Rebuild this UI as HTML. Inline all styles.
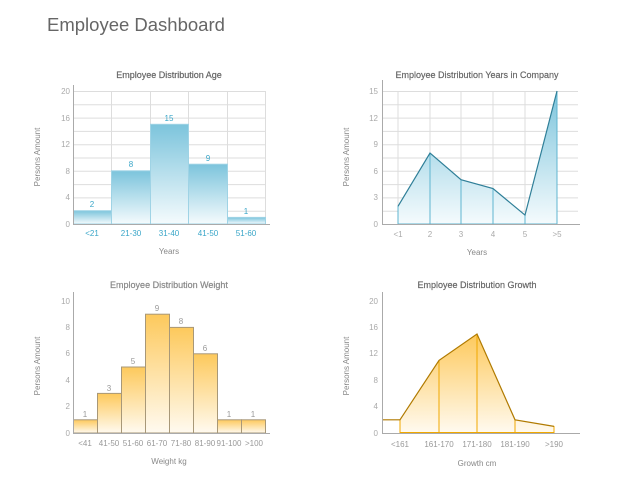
<!DOCTYPE html><html><head><meta charset="utf-8"><style>body{margin:0;background:#fff}svg{display:block}text{font-family:"Liberation Sans",sans-serif}</style></head><body>
<svg width="640" height="481" viewBox="0 0 640 481">
<defs>
<linearGradient id="b" x1="0" y1="0" x2="0" y2="1"><stop offset="0" stop-color="#7cc4dc"/><stop offset="1" stop-color="#f5fbfd"/></linearGradient>
<linearGradient id="o" x1="0" y1="0" x2="0" y2="1"><stop offset="0" stop-color="#fdc95c"/><stop offset="1" stop-color="#fffaf0"/></linearGradient>
</defs>
<text x="47" y="31" font-size="18.5" fill="#666">Employee Dashboard</text>

<!-- Chart 1 -->
<g stroke="#ddd" stroke-width="1">
<line x1="73" y1="91.5" x2="266" y2="91.5"/><line x1="73" y1="104.8" x2="266" y2="104.8"/><line x1="73" y1="118.1" x2="266" y2="118.1"/><line x1="73" y1="131.4" x2="266" y2="131.4"/><line x1="73" y1="144.7" x2="266" y2="144.7"/><line x1="73" y1="158" x2="266" y2="158"/><line x1="73" y1="171.3" x2="266" y2="171.3"/><line x1="73" y1="184.6" x2="266" y2="184.6"/><line x1="73" y1="197.9" x2="266" y2="197.9"/><line x1="73" y1="211.2" x2="266" y2="211.2"/>
<line x1="111.5" y1="91" x2="111.5" y2="224"/><line x1="150.5" y1="91" x2="150.5" y2="224"/><line x1="188.5" y1="91" x2="188.5" y2="224"/><line x1="227.5" y1="91" x2="227.5" y2="224"/><line x1="265.5" y1="91" x2="265.5" y2="224"/>
</g>
<g fill="url(#b)" stroke="#9fd3e5">
<rect x="73.5" y="210.7" width="38" height="13.3"/><rect x="111.5" y="170.8" width="39" height="53.2"/><rect x="150.5" y="124.3" width="38" height="99.7"/><rect x="188.5" y="164.2" width="39" height="59.8"/><rect x="227.5" y="217.4" width="38" height="6.6"/>
</g>
<g stroke="#aaa"><line x1="73.5" y1="85" x2="73.5" y2="225"/><line x1="73" y1="224.5" x2="270" y2="224.5"/></g>
<g font-size="8" fill="#aaa" text-anchor="end"><text x="70" y="94">20</text><text x="70" y="121">16</text><text x="70" y="147">12</text><text x="70" y="174">8</text><text x="70" y="200">4</text><text x="70" y="227">0</text></g>
<g font-size="8" fill="#3aa6c8" text-anchor="middle"><text x="92" y="207">2</text><text x="131" y="167">8</text><text x="169" y="121">15</text><text x="208" y="161">9</text><text x="246" y="214">1</text>
<text x="92" y="236">&lt;21</text><text x="131" y="236">21-30</text><text x="169" y="236">31-40</text><text x="208" y="236">41-50</text><text x="246" y="236">51-60</text></g>
<text x="169" y="78" font-size="9" fill="#666" stroke="#666" stroke-width="0.2" text-anchor="middle">Employee Distribution Age</text>
<text x="169" y="254" font-size="8" fill="#888" text-anchor="middle">Years</text>
<text transform="translate(40,157) rotate(-90)" font-size="8" fill="#888" text-anchor="middle">Persons Amount</text>

<!-- Chart 2 -->
<g stroke="#ddd"><line x1="382" y1="91.5" x2="578" y2="91.5"/><line x1="382" y1="104.8" x2="578" y2="104.8"/><line x1="382" y1="118.1" x2="578" y2="118.1"/><line x1="382" y1="131.4" x2="578" y2="131.4"/><line x1="382" y1="144.7" x2="578" y2="144.7"/><line x1="382" y1="158" x2="578" y2="158"/><line x1="382" y1="171.3" x2="578" y2="171.3"/><line x1="382" y1="184.6" x2="578" y2="184.6"/><line x1="382" y1="197.9" x2="578" y2="197.9"/><line x1="382" y1="211.2" x2="578" y2="211.2"/>
<line x1="398" y1="91" x2="398" y2="224"/><line x1="430" y1="91" x2="430" y2="224"/><line x1="461" y1="91" x2="461" y2="224"/><line x1="493" y1="91" x2="493" y2="224"/><line x1="525" y1="91" x2="525" y2="224"/><line x1="557" y1="91" x2="557" y2="224"/></g>
<polygon points="398,206.3 430,153.1 461,179.7 493,188.5 525,215.1 557,91 557,224 398,224" fill="url(#b)"/>
<g stroke="#5fb5d0"><line x1="398" y1="206" x2="398" y2="224"/><line x1="430" y1="153" x2="430" y2="224"/><line x1="461" y1="180" x2="461" y2="224"/><line x1="493" y1="188" x2="493" y2="224"/><line x1="525" y1="215" x2="525" y2="224"/><line x1="557" y1="91" x2="557" y2="224"/><line x1="398" y1="224" x2="557" y2="224"/></g>
<polyline points="398,206.3 430,153.1 461,179.7 493,188.5 525,215.1 557,91" fill="none" stroke="#2f7f98" stroke-width="1.2"/>
<g stroke="#aaa"><line x1="382.5" y1="80" x2="382.5" y2="225"/><line x1="382" y1="224.5" x2="580" y2="224.5"/></g>
<g font-size="8" fill="#aaa" text-anchor="end"><text x="378" y="94">15</text><text x="378" y="121">12</text><text x="378" y="147">9</text><text x="378" y="174">6</text><text x="378" y="200">3</text><text x="378" y="227">0</text></g>
<g font-size="8" fill="#aaa" text-anchor="middle"><text x="398" y="237">&lt;1</text><text x="430" y="237">2</text><text x="461" y="237">3</text><text x="493" y="237">4</text><text x="525" y="237">5</text><text x="557" y="237">&gt;5</text></g>
<text x="477" y="78" font-size="9" fill="#666" stroke="#666" stroke-width="0.2" text-anchor="middle">Employee Distribution Years in Company</text>
<text x="477" y="255" font-size="8" fill="#888" text-anchor="middle">Years</text>
<text transform="translate(349,157) rotate(-90)" font-size="8" fill="#888" text-anchor="middle">Persons Amount</text>

<!-- Chart 3 -->
<g fill="url(#o)" stroke="#a89878">
<rect x="73.5" y="419.8" width="24" height="13.2"/><rect x="97.5" y="393.4" width="24" height="39.6"/><rect x="121.5" y="367" width="24" height="66"/><rect x="145.5" y="314.2" width="24" height="118.8"/><rect x="169.5" y="327.4" width="24" height="105.6"/><rect x="193.5" y="353.8" width="24" height="79.2"/><rect x="217.5" y="419.8" width="24" height="13.2"/><rect x="241.5" y="419.8" width="24" height="13.2"/>
</g>
<g stroke="#aaa"><line x1="73.5" y1="292" x2="73.5" y2="434"/><line x1="73" y1="433.5" x2="270" y2="433.5"/></g>
<g font-size="8" fill="#aaa" text-anchor="end"><text x="70" y="304">10</text><text x="70" y="330">8</text><text x="70" y="356">6</text><text x="70" y="383">4</text><text x="70" y="409">2</text><text x="70" y="436">0</text></g>
<g font-size="8" fill="#999" text-anchor="middle"><text x="85" y="417">1</text><text x="109" y="391">3</text><text x="133" y="364">5</text><text x="157" y="311">9</text><text x="181" y="324">8</text><text x="205" y="351">6</text><text x="229" y="417">1</text><text x="253" y="417">1</text>
<text x="85" y="446">&lt;41</text><text x="109" y="446">41-50</text><text x="133" y="446">51-60</text><text x="157" y="446">61-70</text><text x="181" y="446">71-80</text><text x="205" y="446">81-90</text><text x="229" y="446">91-100</text><text x="254" y="446">&gt;100</text></g>
<text x="169" y="288" font-size="9" fill="#888" stroke="#888" stroke-width="0.2" text-anchor="middle">Employee Distribution Weight</text>
<text x="169" y="464" font-size="8" fill="#888" text-anchor="middle">Weight kg</text>
<text transform="translate(40,366) rotate(-90)" font-size="8" fill="#888" text-anchor="middle">Persons Amount</text>

<!-- Chart 4 -->
<polygon points="400,419.8 439,360.4 477,334 515,419.8 554,426.4 554,433 400,433" fill="url(#o)"/>
<g stroke="#f0a800"><line x1="400" y1="420" x2="400" y2="433"/><line x1="439" y1="360" x2="439" y2="433"/><line x1="477" y1="334" x2="477" y2="433"/><line x1="515" y1="420" x2="515" y2="433"/><line x1="554" y1="426" x2="554" y2="433"/><line x1="400" y1="432.5" x2="554" y2="432.5"/></g>
<polyline points="382,419.8 400,419.8 439,360.4 477,334 515,419.8 554,426.4" fill="none" stroke="#b07a00" stroke-width="1.2"/>
<g stroke="#aaa"><line x1="382.5" y1="292" x2="382.5" y2="434"/><line x1="382" y1="433.5" x2="580" y2="433.5"/></g>
<g font-size="8" fill="#aaa" text-anchor="end"><text x="378" y="304">20</text><text x="378" y="330">16</text><text x="378" y="356">12</text><text x="378" y="383">8</text><text x="378" y="409">4</text><text x="378" y="436">0</text></g>
<g font-size="8" fill="#999" text-anchor="middle"><text x="400" y="447">&lt;161</text><text x="439" y="447">161-170</text><text x="477" y="447">171-180</text><text x="515" y="447">181-190</text><text x="554" y="447">&gt;190</text></g>
<text x="477" y="288" font-size="9" fill="#666" stroke="#666" stroke-width="0.2" text-anchor="middle">Employee Distribution Growth</text>
<text x="477" y="466" font-size="8" fill="#888" text-anchor="middle">Growth cm</text>
<text transform="translate(349,366) rotate(-90)" font-size="8" fill="#888" text-anchor="middle">Persons Amount</text>
</svg></body></html>
